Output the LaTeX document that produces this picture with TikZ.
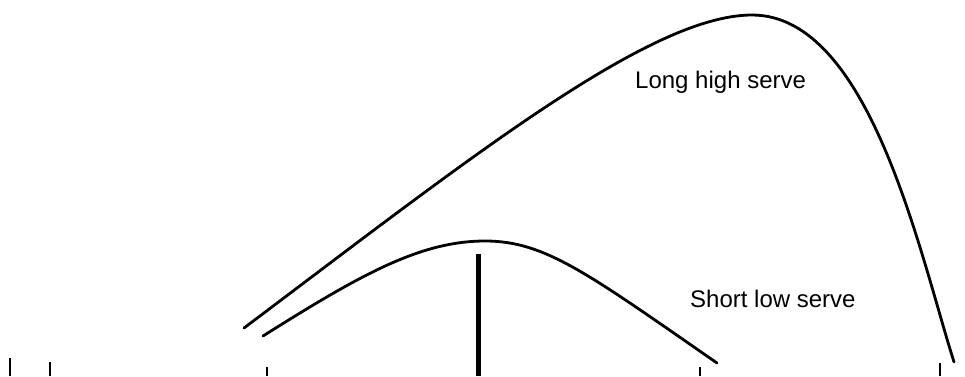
\documentclass[tikz,border=0pt]{standalone}
\usepackage{fontspec}
\setmainfont{Liberation Sans}
\begin{document}
\begin{tikzpicture}[x=1pt,y=-1pt,
  serve/.style={line width=2.8pt, line cap=round, line join=round},
  tick/.style={line width=1.8pt},
  netline/.style={line width=5pt},
  lbl/.style={font=\fontsize{24}{28}\selectfont, inner sep=0pt, anchor=base west}]
\useasboundingbox (0,0) rectangle (965,376);
% ground ticks
\coordinate (t1a) at (10,358); \coordinate (t1b) at (10,376);
\coordinate (t2a) at (50,362); \coordinate (t2b) at (50,376);
\coordinate (t3a) at (267,367); \coordinate (t3b) at (267,376);
\coordinate (t4a) at (700,367); \coordinate (t4b) at (700,376);
\coordinate (t5a) at (940,363); \coordinate (t5b) at (940,376);
\draw[tick] (t1a) -- (t1b);
\draw[tick] (t2a) -- (t2b);
\draw[tick] (t3a) -- (t3b);
\draw[tick] (t4a) -- (t4b);
\draw[tick] (t5a) -- (t5b);
% net
\coordinate (nettop) at (478,254); \coordinate (netbot) at (478,376);
\draw[netline] (nettop) -- (netbot);
% long high serve
\coordinate (ls) at (244,328); \coordinate (lp) at (752,15); \coordinate (le) at (954,362);
\draw[serve] (ls) .. controls (470,158) and (650,15) .. (lp)
                  .. controls (870,15) and (920,255) .. (le);
% short low serve
\coordinate (ss) at (263,336); \coordinate (sp) at (485,241); \coordinate (se) at (717,363);
\draw[serve] (ss) .. controls (360,275) and (420,241) .. (sp)
                  .. controls (545,241) and (587,273) .. (se);
% labels
\node[lbl] (long) at (635,88) {Long high serve};
\node[lbl] (short) at (690,307) {Short low serve};
\end{tikzpicture}
\end{document}
